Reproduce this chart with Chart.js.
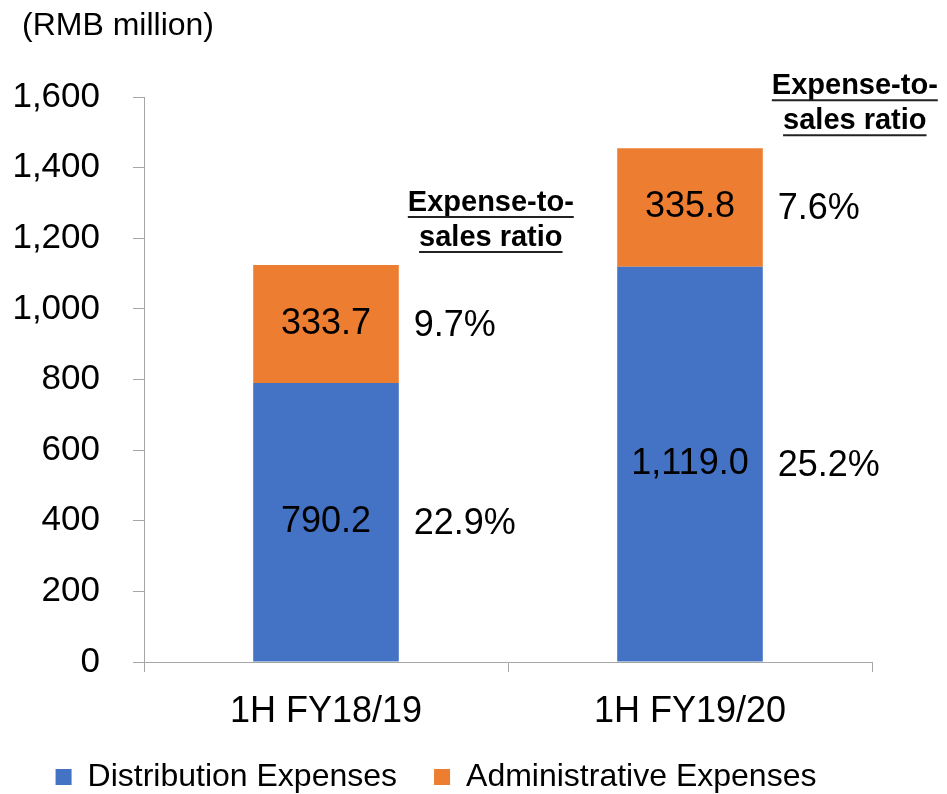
<!DOCTYPE html>
<html lang="en">
<head>
    <meta charset="UTF-8">
    <title>Distribution and Administrative Expenses</title>
    <script src="https://cdn.jsdelivr.net/npm/chart.js"></script>
    <style>
        body {
            margin: 0;
            padding: 0;
            background-color: #fff;
        }

        .chart-container {
            width: 947px;
            height: 794px;
        }
    </style>
</head>
<body>
    <div class="chart-container">
        <canvas id="expenseChart"></canvas>
    </div>

    <script>
        // Chart data (RMB million)
        const categories = ['1H FY18/19', '1H FY19/20'];
        const distribution = [790.2, 1119.0];
        const administrative = [333.7, 335.8];
        const distributionRatio = ['22.9%', '25.2%'];
        const administrativeRatio = ['9.7%', '7.6%'];
        const seriesNames = ['Distribution Expenses', 'Administrative Expenses'];
        const ratioHeading = ['Expense-to-', 'sales ratio'];
        const unitLabel = '(RMB million)';

        const FONT = '"Liberation Sans", Arial, sans-serif';
        const AXIS_GREY = '#a6a6a6';

        function fmt(v) {
            return v.toLocaleString('en-US', { minimumFractionDigits: 1, maximumFractionDigits: 1 });
        }

        // Draws the value labels, ratio labels and headings
        const labelPlugin = {
            id: 'labels',
            afterDatasetsDraw(chart) {
                const ctx = chart.ctx;
                ctx.save();
                ctx.fillStyle = '#000';

                ctx.font = '32px ' + FONT;
                ctx.textAlign = 'left';
                ctx.textBaseline = 'middle';
                ctx.fillText(unitLabel, 22, 26);

                const ratios = [distributionRatio, administrativeRatio];
                let tops = [];
                chart.data.datasets.forEach((ds, di) => {
                    const meta = chart.getDatasetMeta(di);
                    meta.data.forEach((bar, i) => {
                        const mid = (bar.y + bar.base) / 2;
                        const right = bar.x + bar.width / 2;
                        ctx.font = '36px ' + FONT;
                        ctx.textAlign = 'center';
                        ctx.fillText(fmt(ds.data[i]), bar.x, mid);
                        ctx.textAlign = 'left';
                        ctx.fillText(ratios[di][i], right + 15, mid + 2);
                        if (tops[i] === undefined || bar.y < tops[i].y) {
                            tops[i] = { y: bar.y, right: right };
                        }
                    });
                });

                ctx.font = 'bold 29px ' + FONT;
                ctx.textAlign = 'center';
                ctx.textBaseline = 'alphabetic';
                ctx.strokeStyle = '#222';
                ctx.lineWidth = 2;
                tops.forEach(t => {
                    const cx = t.right + 92;
                    [-54, -19].forEach((off, li) => {
                        const y = t.y + off;
                        const text = ratioHeading[li];
                        const w = ctx.measureText(text).width;
                        ctx.fillText(text, cx, y);
                        ctx.beginPath();
                        ctx.moveTo(cx - w / 2, y + 6);
                        ctx.lineTo(cx + w / 2, y + 6);
                        ctx.stroke();
                    });
                });
                ctx.restore();
            }
        };

        const ctx = document.getElementById('expenseChart').getContext('2d');
        new Chart(ctx, {
            type: 'bar',
            data: {
                labels: categories,
                datasets: [{
                    label: seriesNames[0],
                    data: distribution,
                    backgroundColor: '#4472c4'
                }, {
                    label: seriesNames[1],
                    data: administrative,
                    backgroundColor: '#ed7d31'
                }]
            },
            options: {
                responsive: true,
                maintainAspectRatio: false,
                animation: false,
                layout: {
                    padding: { top: 97, right: 75, left: 0, bottom: -9 }
                },
                datasets: {
                    bar: { barPercentage: 1, categoryPercentage: 0.4 }
                },
                scales: {
                    x: {
                        stacked: true,
                        grid: { drawOnChartArea: false, color: AXIS_GREY, tickLength: 10 },
                        border: { color: AXIS_GREY },
                        ticks: { color: '#000', font: { family: FONT, size: 36 }, padding: 18 },
                        afterFit(scale) { scale.height = 62; }
                    },
                    y: {
                        stacked: true,
                        min: 0,
                        max: 1600,
                        grid: { drawOnChartArea: false, color: AXIS_GREY, tickLength: 11 },
                        border: { color: AXIS_GREY },
                        ticks: {
                            stepSize: 200,
                            color: '#000',
                            font: { family: FONT, size: 35 },
                            padding: 33,
                            callback: v => v.toLocaleString('en-US')
                        },
                        afterFit(scale) { scale.width = 144; }
                    }
                },
                plugins: {
                    legend: {
                        position: 'bottom',
                        labels: {
                            color: '#000',
                            font: { family: FONT, size: 32 },
                            boxWidth: 16,
                            boxHeight: 16,
                            padding: 37
                        }
                    },
                    tooltip: { enabled: false }
                }
            },
            plugins: [labelPlugin]
        });
    </script>
</body>
</html>
